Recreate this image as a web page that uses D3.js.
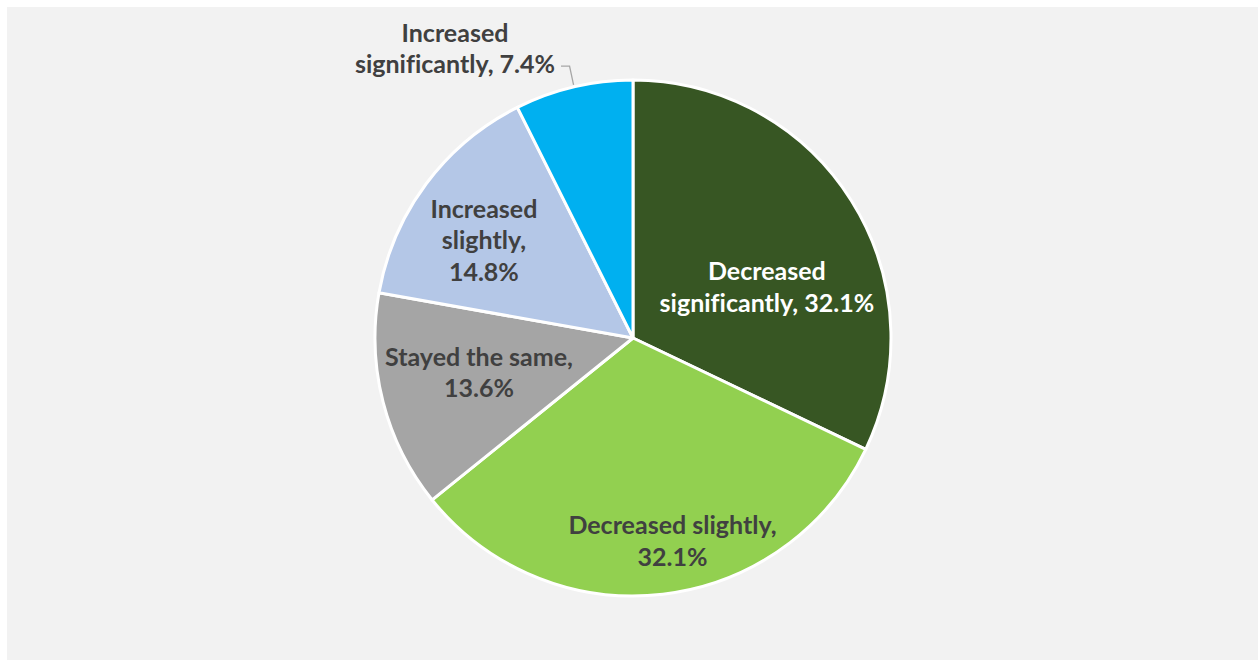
<!DOCTYPE html>
<html>
<head>
<meta charset="utf-8">
<script src="https://cdn.jsdelivr.net/npm/d3@7/dist/d3.min.js"></script>
<style>
  html, body { margin: 0; padding: 0; background: #ffffff; }
  svg { display: block; }
  text { font-variant-ligatures: none; font-feature-settings: "liga" 0; }
</style>
</head>
<body>
<svg id="chart" width="1258" height="660"></svg>
<script>
// Survey answer categories, in clockwise order from 12 o'clock
const categories = [
  "Decreased significantly",
  "Decreased slightly",
  "Stayed the same",
  "Increased slightly",
  "Increased significantly"
];
// Share of responses (%)
const values = [32.1, 32.1, 13.6, 14.8, 7.4];

// Slice fills and label colours
const colors = ["#375623", "#92d050", "#a5a5a5", "#b4c7e7", "#00b0f0"];
const labelColors = ["#ffffff", "#404040", "#404040", "#404040", "#404040"];

// Word indices after which each label wraps to a new line
const labelBreaks = [[1], [2], [3], [1, 2], [1]];
// Label anchor offsets from the pie centre, as a fraction of the radius
const labelOffsets = [
  [0.519, -0.163],
  [0.153, 0.822],
  [-0.597, 0.169],
  [-0.578, -0.345],
  [-0.69, -1.088]
];
// Slices whose label sits outside the pie and needs a leader line
const outsideLabel = [false, false, false, false, true];

const W = 1258, H = 660;
const svg = d3.select("#chart");

// Panel background
svg.append("rect")
  .attr("x", 7).attr("y", 7)
  .attr("width", W - 7).attr("height", H - 7)
  .attr("fill", "#f2f2f2");

const cx = 633, cy = 338, R = 258;
const g = svg.append("g").attr("transform", `translate(${cx},${cy})`);

const pie = d3.pie().sort(null).value(d => d.value);
const rows = categories.map((c, i) => ({ name: c, value: values[i], i }));
const arcs = pie(rows);

const arc = d3.arc().innerRadius(0).outerRadius(R);

g.selectAll("path.slice")
  .data(arcs)
  .join("path")
  .attr("class", "slice")
  .attr("d", arc)
  .attr("fill", d => colors[d.data.i])
  .attr("stroke", "#ffffff")
  .attr("stroke-width", 3)
  .attr("stroke-linejoin", "round");

// Labels
const fontSize = 25;
const lineH = 31.5;

function labelLines(d) {
  const words = `${d.data.name}, ${d.data.value.toFixed(1)}%`.split(" ");
  const breaks = labelBreaks[d.data.i];
  const lines = [];
  let start = 0;
  breaks.forEach(b => { lines.push(words.slice(start, b).join(" ")); start = b; });
  lines.push(words.slice(start).join(" "));
  return lines;
}

const labels = g.selectAll("text.lbl")
  .data(arcs)
  .join("text")
  .attr("class", "lbl")
  .attr("text-anchor", "middle")
  .attr("font-family", "Lato, 'Open Sans', sans-serif")
  .attr("font-weight", 700)
  .attr("font-size", fontSize)
  .attr("fill", d => labelColors[d.data.i])
  .each(function (d) {
    const lines = labelLines(d);
    const [ox, oy] = labelOffsets[d.data.i];
    const x = ox * R, y0 = oy * R - (lines.length - 1) * lineH / 2;
    d3.select(this).selectAll("tspan")
      .data(lines)
      .join("tspan")
      .attr("x", x)
      .attr("y", (l, k) => y0 + k * lineH)
      .text(l => l);
  });

// Leader lines for labels placed outside the pie
g.selectAll("path.leader")
  .data(arcs.filter(d => outsideLabel[d.data.i]))
  .join("path")
  .attr("class", "leader")
  .attr("fill", "none")
  .attr("stroke", "#a6a6a6")
  .attr("stroke-width", 1.3)
  .attr("d", d => {
    const mid = (d.startAngle + d.endAngle) / 2;
    const ex = Math.sin(mid) * R, ey = -Math.cos(mid) * R;
    const lbl = labels.filter(e => e === d).node();
    const box = lbl.getBBox();
    const lines = labelLines(d);
    const [, oy] = labelOffsets[d.data.i];
    const lastBase = oy * R + (lines.length - 1) * lineH / 2;
    const ly = lastBase - fontSize * 0.28;
    const sx = box.x + box.width + 6;
    return `M${sx},${ly} L${ex - 4},${ly} L${ex},${ey - 2}`;
  });
</script>
</body>
</html>
